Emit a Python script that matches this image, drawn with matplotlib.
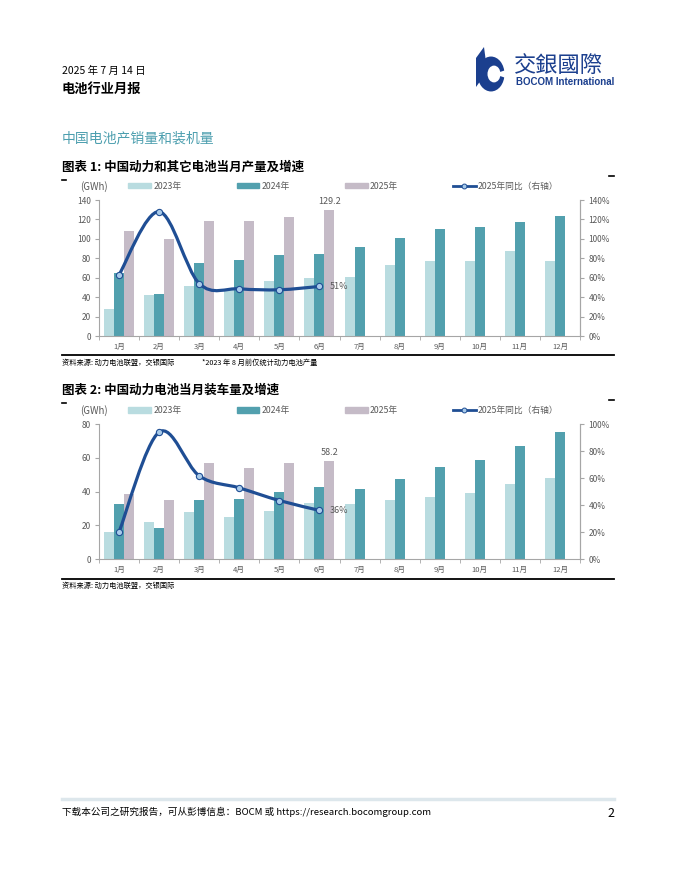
import matplotlib
matplotlib.use("Agg")
import matplotlib.pyplot as plt
from matplotlib.path import Path
from matplotlib.patches import PathPatch, Patch, Circle, Polygon
from matplotlib.lines import Line2D
import numpy as np

plt.rcParams['font.family'] = ['Noto Sans CJK SC', 'DejaVu Sans']

months = ['1月', '2月', '3月', '4月', '5月', '6月', '7月', '8月', '9月', '10月', '11月', '12月']

# 图表1: 产量 (GWh)
prod_2023 = [28, 42, 51, 47, 57, 60, 61, 73, 77, 77, 87.5, 77.5]
prod_2024 = [65, 43, 75.5, 78, 83, 84, 91.5, 101, 110.5, 112.5, 117.5, 124]
prod_2025 = [108, 100, 118, 118, 123, 129.2]
prod_yoy = [63, 128, 54, 48.6, 47.6, 51]

# 图表2: 装车量 (GWh)
inst_2023 = [16, 22, 27.8, 24.8, 28.2, 32.9, 32.3, 35, 36.5, 39, 44.5, 47.9]
inst_2024 = [32.3, 18.1, 34.9, 35.3, 40, 42.6, 41.4, 47.3, 54.4, 58.9, 66.8, 75]
inst_2025 = [38.4, 34.9, 56.6, 53.8, 57.1, 58.2]
inst_yoy = [20, 94, 61.6, 52.7, 43.3, 36]

C23 = '#B9DCE0'
C24 = '#52A0AE'
C25 = '#C5BBC7'
CLINE = '#1F4E94'
CMARK = '#A9CBEA'
GRAY = '#595959'
SPINE = '#A6A6A6'

W, H = 680, 880
fig = plt.figure(figsize=(6.8, 8.8), dpi=100)


def fx(x):
    return x / W


def fy(y):
    return 1 - y / H


def smooth_path(xs, ys):
    # Catmull-Rom curve as bezier segments (like Excel smoothed line)
    pts = np.column_stack([xs, ys]).astype(float)
    ext = np.vstack([pts[0], pts, pts[-1]])
    verts = [tuple(pts[0])]
    codes = [Path.MOVETO]
    for i in range(1, len(ext) - 2):
        p0, p1, p2, p3 = ext[i - 1], ext[i], ext[i + 1], ext[i + 2]
        c1 = p1 + (p2 - p0) / 6
        c2 = p2 - (p3 - p1) / 6
        verts += [tuple(c1), tuple(c2), tuple(p2)]
        codes += [Path.CURVE4] * 3
    return Path(verts, codes)


def draw_chart(rect, v23, v24, v25, yoy, ymax, ystep, rmax, rstep, top_label, yoy_label):
    ax = fig.add_axes(rect)
    x = np.arange(len(months))
    w = 0.25
    ax.bar(x - w, v23, w, color=C23, label='2023年', zorder=2)
    ax.bar(x, v24, w, color=C24, label='2024年', zorder=2)
    x25 = np.arange(len(v25))
    ax.bar(x25 + w, v25, w, color=C25, label='2025年', zorder=2)
    ax.text(x25[-1] + w, v25[-1] + ymax * 0.03, top_label, ha='center', va='bottom',
            fontsize=6.5, color=GRAY)

    ax.set_xlim(-0.5, len(months) - 0.5)
    ax.set_ylim(0, ymax)
    ax.set_yticks(np.arange(0, ymax + 1, ystep))
    ax.set_xticks(x)
    ax.set_xticklabels(months)
    ax.set_xticks(np.arange(-0.5, len(months), 1), minor=True)
    ax.tick_params(axis='x', which='major', length=0, labelsize=5.5, labelcolor=GRAY, pad=5)
    ax.tick_params(axis='x', which='minor', length=3, color=SPINE, direction='out')
    ax.tick_params(axis='y', length=3, color=SPINE, labelsize=6, labelcolor=GRAY, pad=3)
    ax.spines['top'].set_visible(False)
    for s in ['left', 'bottom', 'right']:
        ax.spines[s].set_color(SPINE)
        ax.spines[s].set_linewidth(0.8)

    ax2 = ax.twinx()
    ax2.set_ylim(0, rmax)
    ax2.set_yticks(np.arange(0, rmax + 1, rstep))
    ax2.set_yticklabels([f'{int(t)}%' for t in np.arange(0, rmax + 1, rstep)])
    ax2.tick_params(axis='y', length=3, color=SPINE, labelsize=6, labelcolor=GRAY, pad=3)
    for s in ['top', 'left', 'bottom']:
        ax2.spines[s].set_visible(False)
    ax2.spines['right'].set_color(SPINE)
    ax2.spines['right'].set_linewidth(0.8)

    xy = np.arange(len(yoy))
    ax2.add_patch(PathPatch(smooth_path(xy, yoy), facecolor='none', edgecolor=CLINE,
                            linewidth=2.3, zorder=3, capstyle='round'))
    ax2.plot(xy, yoy, linestyle='none', marker='o', markersize=4.5, markerfacecolor=CMARK,
             markeredgecolor=CLINE, markeredgewidth=0.8, zorder=4)
    ax2.text(xy[-1] + 0.25, yoy[-1], yoy_label, ha='left', va='center', fontsize=6.5, color=GRAY)

    handles = [Patch(color=C23, label='2023年'), Patch(color=C24, label='2024年'),
               Patch(color=C25, label='2025年'),
               Line2D([], [], color=CLINE, linewidth=2, marker='o', markersize=3.5,
                      markerfacecolor=CMARK, markeredgecolor=CLINE, markeredgewidth=0.7,
                      label='2025年同比（右轴）')]
    leg = ax.legend(handles=handles, ncol=4, loc='center left', bbox_to_anchor=(0.061, 1.1),
                    frameon=False, fontsize=6.3, handlelength=2.6, handleheight=0.55,
                    handletextpad=0.25, columnspacing=6.3, borderaxespad=0, borderpad=0)
    for t in leg.get_texts():
        t.set_color(GRAY)
    ax.text(-0.04, 1.1, '(GWh)', transform=ax.transAxes, ha='left', va='center',
            fontsize=7, color=GRAY)
    return ax


def hline(y, x0, x1, lw, color):
    fig.add_artist(Line2D([fx(x0), fx(x1)], [fy(y), fy(y)], color=color, linewidth=lw))


# header
fig.text(fx(62), fy(71), '2025 年 7 月 14 日', fontsize=7.5, va='center', ha='left')
fig.text(fx(62), fy(89), '电池行业月报', fontsize=9.5, fontweight='bold', va='center', ha='left')
fig.text(fx(62), fy(138), '中国电池产销量和装机量', fontsize=10,
         color='#4D9FAF', va='center', ha='left')

# logo
NAVY = '#1B3F8E'
fig.add_artist(Circle((fx(491), fy(74)), 13.5 / W, transform=fig.transFigure,
                      facecolor=NAVY, edgecolor='none'))
fig.add_artist(Polygon([(fx(476), fy(87)), (fx(476), fy(58)), (fx(484), fy(47)),
                        (fx(486), fy(62)), (fx(481), fy(80))], closed=True,
                       transform=fig.transFigure, facecolor=NAVY, edgecolor='none'))
fig.add_artist(Circle((fx(494), fy(74)), 6.5 / W, transform=fig.transFigure,
                      facecolor='white', edgecolor='none'))
fig.add_artist(Polygon([(fx(494), fy(74)), (fx(506), fy(70)), (fx(506), fy(78))], closed=True,
                       transform=fig.transFigure, facecolor='white', edgecolor='none'))
fig.text(fx(514), fy(65), '交銀國際', fontsize=16, color=NAVY, va='center', ha='left')
fig.text(fx(516), fy(82), 'BOCOM International', fontsize=7, fontweight='bold', color=NAVY,
         va='center', ha='left', family=['Liberation Sans'])

# chart 1
fig.text(fx(62), fy(167), '图表 1: 中国动力和其它电池当月产量及增速', fontsize=9,
         fontweight='bold', va='center', ha='left')
hline(180, 62, 66, 1.2, 'black')
hline(176, 609, 614, 1.2, 'black')
draw_chart([fx(99), fy(336), fx(580) - fx(99), fy(200) - fy(336)],
           prod_2023, prod_2024, prod_2025, prod_yoy, 140, 20, 140, 20, '129.2', '51%')
hline(355, 62, 614, 1.3, 'black')
fig.text(fx(62), fy(363), '资料来源: 动力电池联盟，交银国际', fontsize=5.2, style='italic',
         va='center', ha='left')
fig.text(fx(202), fy(363), '*2023 年 8 月前仅统计动力电池产量', fontsize=5.2, style='italic',
         va='center', ha='left')

# chart 2
fig.text(fx(62), fy(390), '图表 2: 中国动力电池当月装车量及增速', fontsize=9,
         fontweight='bold', va='center', ha='left')
hline(403, 62, 66, 1.2, 'black')
hline(400, 609, 614, 1.2, 'black')
draw_chart([fx(99), fy(559), fx(580) - fx(99), fy(424) - fy(559)],
           inst_2023, inst_2024, inst_2025, inst_yoy, 80, 20, 100, 20, '58.2', '36%')
hline(579, 62, 614, 1.3, 'black')
fig.text(fx(62), fy(586), '资料来源: 动力电池联盟，交银国际', fontsize=5.2, style='italic',
         va='center', ha='left')

# footer
hline(799, 62, 614, 2.5, '#DDE7EC')
fig.text(fx(62), fy(812), '下载本公司之研究报告，可从彭博信息：BOCM 或 https://research.bocomgroup.com',
         fontsize=6.9, va='center', ha='left')
fig.text(fx(614), fy(813), '2', fontsize=9, va='center', ha='right')

fig.savefig('out.png', dpi=100)
